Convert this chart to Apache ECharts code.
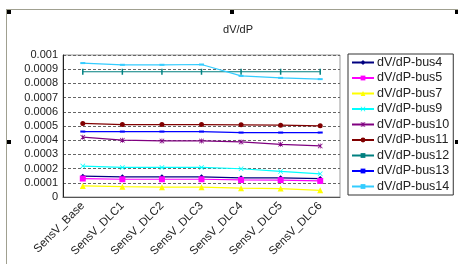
<!DOCTYPE html>
<html><head><meta charset="utf-8">
<script src="https://cdn.jsdelivr.net/npm/echarts@6/dist/echarts.min.js"></script>
<style>html,body{margin:0;padding:0;background:#fff}#c{width:458px;height:264px}</style>
</head><body><div id="c"></div>
<script>
const categories = ['SensV_Base','SensV_DLC1','SensV_DLC2','SensV_DLC3','SensV_DLC4','SensV_DLC5','SensV_DLC6'];
const yTicks = ['0','0.0001','0.0002','0.0003','0.0004','0.0005','0.0006','0.0007','0.0008','0.0009','0.001'];
const seriesNames = ['dV/dP-bus4','dV/dP-bus5','dV/dP-bus7','dV/dP-bus9','dV/dP-bus10','dV/dP-bus11','dV/dP-bus12','dV/dP-bus13','dV/dP-bus14'];
const bus4  = [0.000147,0.000142,0.000142,0.000142,0.000135,0.000135,0.000130];
const bus5  = [0.000130,0.000125,0.000125,0.000125,0.000120,0.000119,0.000113];
const bus7  = [0.000078,0.000073,0.000069,0.000069,0.000062,0.000059,0.000047];
const bus9  = [0.000218,0.000208,0.000208,0.000208,0.000199,0.000180,0.000163];
const bus10 = [0.000421,0.000400,0.000395,0.000395,0.000388,0.000371,0.000360];
const bus11 = [0.000518,0.000510,0.000510,0.000510,0.000508,0.000506,0.000501];
const bus12 = [0.000882,0.000882,0.000882,0.000882,0.000882,0.000882,0.000882];
const bus13 = [0.000461,0.000461,0.000461,0.000461,0.000454,0.000454,0.000454];
const bus14 = [0.000943,0.000931,0.000931,0.000933,0.000853,0.000839,0.000830];

const seriesData = [bus4,bus5,bus7,bus9,bus10,bus11,bus12,bus13,bus14];
const colors = ['#000080','#ff00ff','#ffff00','#00ffff','#800080','#800000','#008080','#0000ff','#33ccff'];
const xPath = 'path://M0,1L1,0L5,4L9,0L10,1L6,5L10,9L9,10L5,6L1,10L0,9L4,5Z';
const starPath = 'path://M0,1L1,0L5,4L9,0L10,1L6,5L10,9L9,10L5,6L1,10L0,9L4,5ZM4.3,0L5.7,0L5.7,10L4.3,10Z';
const symbols = ['diamond','rect','triangle',xPath,starPath,'circle','rect','rect','rect'];
const sizes = [5,6,6,5,5,5,[1.5,6],[5,2],[5,2]];

const chart = echarts.init(document.getElementById('c'));
const FONT = 'Liberation Sans';
chart.setOption({
  animation: false,
  backgroundColor: '#fff',
  title: { text: 'dV/dP', left: 233, top: 19, textAlign: 'center',
    textStyle: { fontFamily: FONT, fontSize: 11, fontWeight: 'normal', color: '#222' } },
  grid: { left: 63, right: 118, top: 55, bottom: 67, show: true, borderColor: '#999', borderWidth: 1, backgroundColor: 'transparent' },
  legend: {
    orient: 'vertical', left: 348, top: 54, width: 105,
    padding: [1, 4, 1, 3], itemGap: 0.5, itemWidth: 22, itemHeight: 6,
    borderColor: '#333', borderWidth: 1,
    textStyle: { fontFamily: FONT, fontSize: 12.5, lineHeight: 15, color: '#222', padding: [0,0,0,-2] },
    data: seriesNames
  },
  xAxis: {
    type: 'category', data: categories, boundaryGap: true,
    axisLine: { lineStyle: { color: '#555', width: 1 } },
    axisTick: { inside: true, length: 4, lineStyle: { color: '#555' } },
    axisLabel: { rotate: 45, fontFamily: FONT, fontSize: 11.5, color: '#222', margin: 7, interval: 0 }
  },
  yAxis: {
    type: 'value', min: 0, max: 0.001, interval: 0.0001,
    axisLine: { show: true, lineStyle: { color: '#222', width: 1 } },
    axisTick: { show: false },
    axisLabel: { fontFamily: FONT, fontSize: 11, color: '#222', margin: 5,
      formatter: (v) => yTicks[Math.round(v / 0.0001)] },
    splitLine: { lineStyle: { color: '#666', type: [3, 2], width: 1 } }
  },
  series: seriesData.map((d, i) => ({
    name: seriesNames[i], type: 'line', data: d,
    symbol: symbols[i], symbolSize: sizes[i], showSymbol: true,
    itemStyle: { color: colors[i] },
    lineStyle: { color: colors[i], width: 1.2 }
  })),
  graphic: [
    { type: 'line', shape: { x1: 6, y1: 9.5, x2: 458, y2: 9.5 }, style: { stroke: '#a0a090', lineWidth: 1 } },
    { type: 'line', shape: { x1: 6.5, y1: 9.5, x2: 6.5, y2: 264 }, style: { stroke: '#a0a090', lineWidth: 1 } },
    { type: 'rect', shape: { x: 7, y: 10, width: 4, height: 4 }, style: { fill: '#000' } },
    { type: 'rect', shape: { x: 230, y: 10, width: 4, height: 4 }, style: { fill: '#000' } },
    { type: 'rect', shape: { x: 455, y: 10, width: 3, height: 4 }, style: { fill: '#000' } },
    { type: 'rect', shape: { x: 7, y: 140, width: 4, height: 4 }, style: { fill: '#000' } },
    { type: 'rect', shape: { x: 455, y: 140, width: 3, height: 4 }, style: { fill: '#000' } }
  ]
});
</script></body></html>
